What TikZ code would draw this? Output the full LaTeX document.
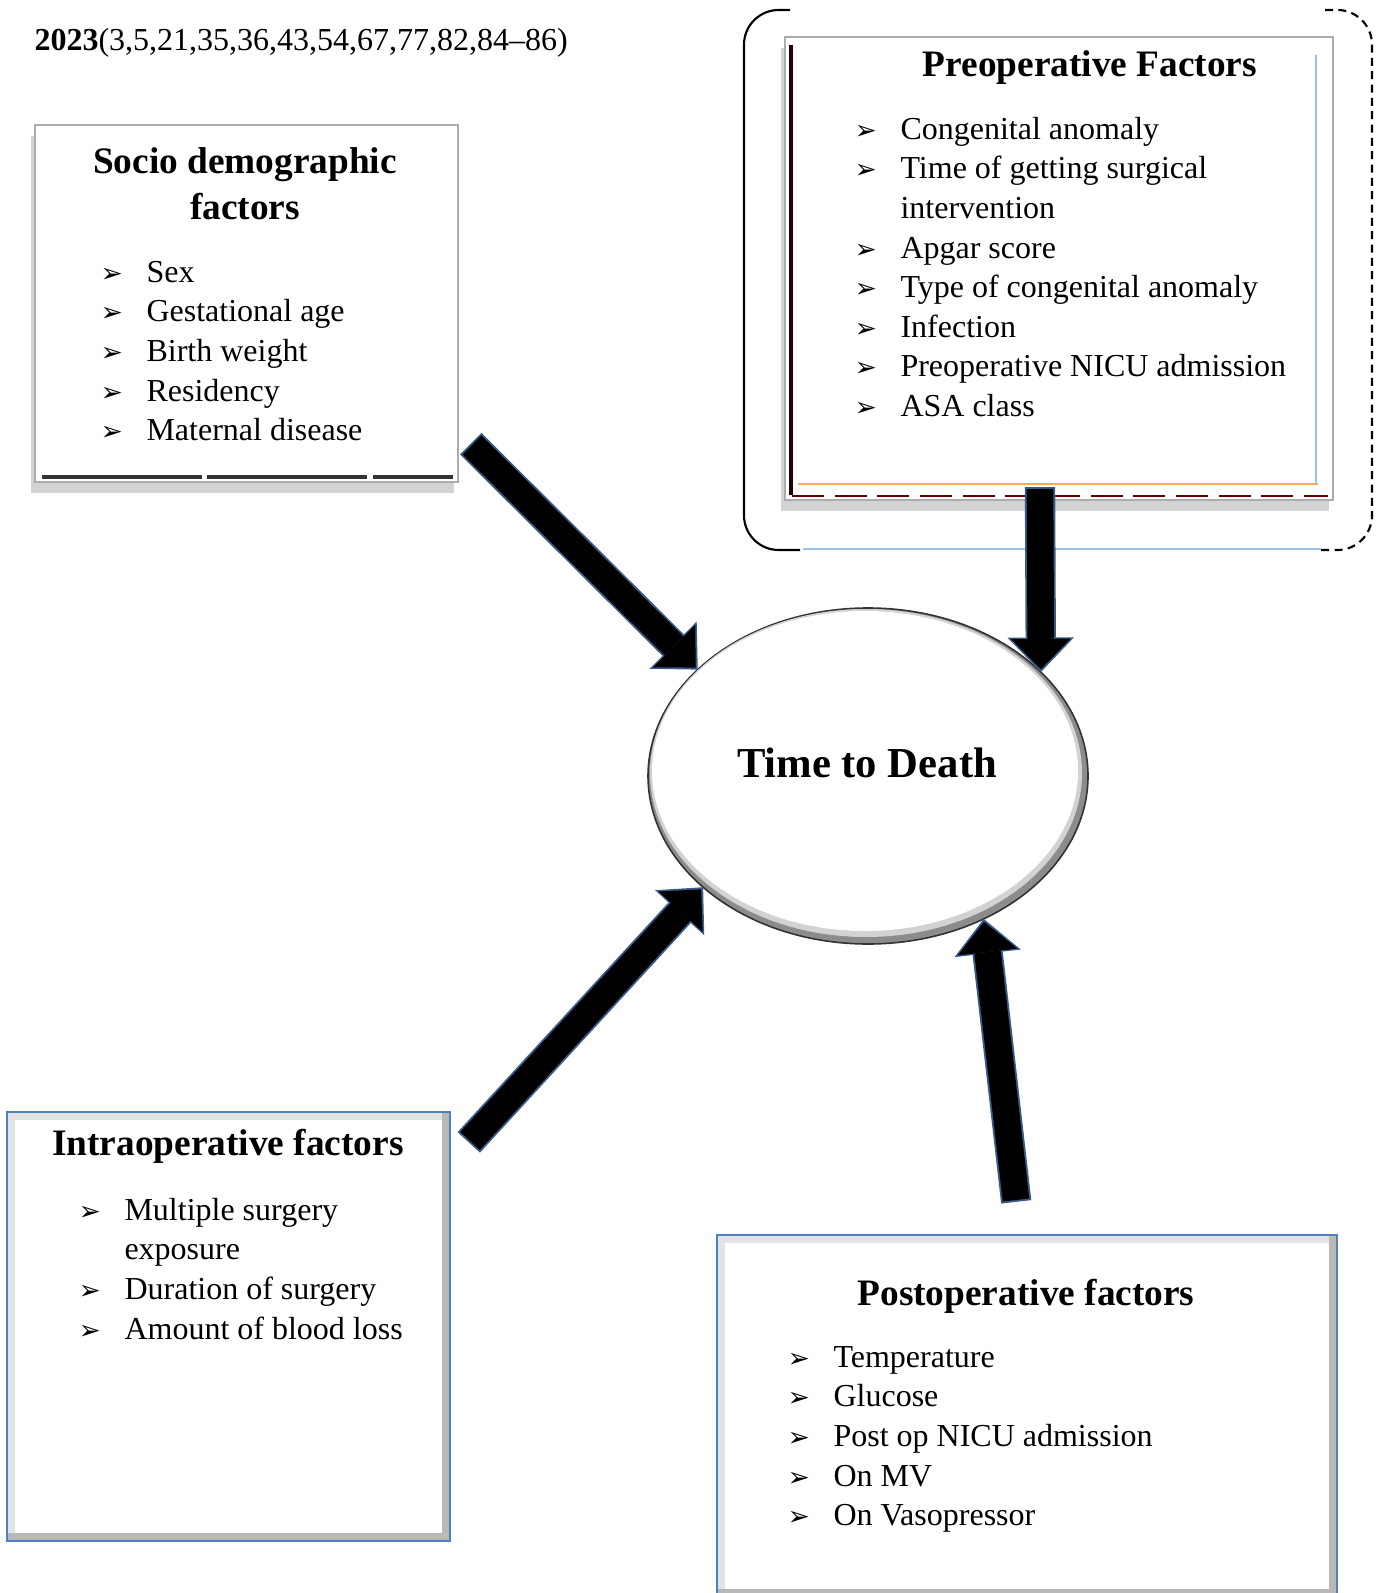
\documentclass[tikz,border=0pt]{standalone}
\usepackage{fontspec}
\setmainfont{Liberation Serif}
\newfontfamily\dingfont{DejaVu Sans}
\usetikzlibrary{arrows.meta,shapes.geometric,shadows,fit}

\definecolor{boxblue}{RGB}{79,129,189}
\definecolor{arrowblue}{RGB}{56,93,138}
\definecolor{rimgray}{RGB}{140,140,140}
\definecolor{paleblue}{RGB}{155,194,230}
\definecolor{softorange}{RGB}{247,170,90}

\newcommand{\pointer}{\makebox[17.25pt][l]{\dingfont\fontsize{10}{10}\selectfont ➢}}

\tikzset{
  shadowbox/.style={draw=gray!65, line width=1pt, fill=white, inner sep=0pt,
    drop shadow={shadow xshift=-1.5pt, shadow yshift=-4pt, opacity=0.35, fill=gray}},
  bevelbox/.style={draw=boxblue, line width=0.9pt, fill=white, inner sep=0pt,
    path picture={
      \draw[gray!22, line width=6pt] (path picture bounding box.south west) rectangle (path picture bounding box.north east);
      \draw[gray!55, line width=6pt] (path picture bounding box.north east) -- (path picture bounding box.south east) -- (path picture bounding box.south west);
    }},
  factortitle/.style={anchor=base, inner sep=0pt, font=\fontsize{14}{17.25}\selectfont\bfseries},
  factorlist/.style={anchor=north west, inner sep=0pt, align=left, font=\fontsize{12}{14.85}\selectfont},
  rimarrow/.style={line width=11.4pt, draw=arrowblue, shorten <=-0.7pt,
    -{Triangle[width=25pt,length=13pt,line width=0pt]}},
  fatarrow/.style={line width=10pt, draw=black, shorten >=1.1pt,
    -{Triangle[width=22.5pt,length=11.4pt,line width=0pt]}},
}

\begin{document}
\begin{tikzpicture}[x=0.375pt, y=-0.375pt]
  \useasboundingbox (0,0) rectangle (1378,1593);

  % reference line at the top
  \node[anchor=base west, inner sep=0pt, font=\fontsize{12}{14}\selectfont] (refs) at (34,51)
    {\textbf{2023}(3,5,21,35,36,43,54,67,77,82,84--86)};

  % socio demographic factors
  \node[shadowbox, fit={(35,125) (458,482)}] (socio) {};
  \draw[black!80, line width=1.5pt, dash pattern=on 60pt off 2pt] (42,477) -- (453,477);
  \node[factortitle, anchor=north, align=center] (sociotitle) at (245,141)
    {\strut Socio demographic\\factors};
  \node[factorlist] (sociolist) at (100,254) {\strut\pointer Sex\\
    \pointer Gestational age\\
    \pointer Birth weight\\
    \pointer Residency\\
    \pointer Maternal disease};

  % preoperative factors
  \draw[line width=0.8pt, rounded corners=13pt] (790,10) -- (744,10) -- (744,550) -- (800,550);
  \draw[line width=0.8pt, densely dashed, rounded corners=13pt] (1325,10) -- (1372,10) -- (1372,550) -- (1320,550);
  \draw[paleblue, line width=0.8pt] (803,549) -- (1321,549);
  \node[shadowbox, fit={(785,37) (1333,500)}] (preop) {};
  \draw[black!85!red, line width=1.2pt] (791,45) -- (791,495);
  \draw[softorange, line width=0.8pt] (798,484) -- (1318,484);
  \draw[paleblue, line width=0.8pt] (1316,55) -- (1316,484);
  \draw[red!40!black, line width=1pt, dash pattern=on 12pt off 4pt] (792,496) -- (1328,496);
  \node[factortitle] (preoptitle) at (1090,77) {Preoperative Factors};
  \node[factorlist] (preoplist) at (854,111) {\strut\pointer Congenital anomaly\\
    \pointer Time of getting surgical\\
    \hspace*{17.25pt}intervention\\
    \pointer Apgar score\\
    \pointer Type of congenital anomaly\\
    \pointer Infection\\
    \pointer Preoperative NICU admission\\
    \pointer ASA class};

  % intraoperative factors
  \node[bevelbox, fit={(7,1112) (450,1541)}] (intraop) {};
  \node[factortitle] (intratitle) at (228,1155) {Intraoperative factors};
  \node[factorlist] (intralist) at (78,1192) {\strut\pointer Multiple surgery\\
    \hspace*{17.25pt}exposure\\
    \pointer Duration of surgery\\
    \pointer Amount of blood loss};

  % postoperative factors
  \node[bevelbox, fit={(717,1235) (1337,1597)}] (postop) {};
  \node[factortitle] (posttitle) at (1026,1305) {Postoperative factors};
  \node[factorlist] (postlist) at (787,1339) {\strut\pointer Temperature\\
    \pointer Glucose\\
    \pointer Post op NICU admission\\
    \pointer On MV\\
    \pointer On Vasopressor};

  % outcome
  \node[ellipse, fill=rimgray, draw=gray!40!black, line width=0.6pt, minimum width=165pt,
    minimum height=126pt, inner sep=0pt, outer sep=0pt] (death) at (868,776) {};
  \fill[gray!35] (866,773) ellipse [x radius=216, y radius=164];
  \fill[white] (865,771) ellipse [x radius=213, y radius=160];
  \node[anchor=base, inner sep=0pt, font=\fontsize{16}{19}\selectfont\bfseries] (deathlabel) at (867,777)
    {Time to Death};

  % block arrows
  \coordinate (sociotail) at (472,445);
  \coordinate (preoptail) at (1040,489);
  \coordinate (intratail) at (470,1141);
  \coordinate (posttail) at (1016,1200);
  \draw[rimarrow] (sociotail) -- (death.148);
  \draw[fatarrow] (sociotail) -- (death.148);
  \draw[rimarrow] (preoptail) -- (death.31);
  \draw[fatarrow] (preoptail) -- (death.31);
  \draw[rimarrow] (intratail) -- (death.214);
  \draw[fatarrow] (intratail) -- (death.214);
  \draw[rimarrow] (posttail) -- (death.309);
  \draw[fatarrow] (posttail) -- (death.309);
\end{tikzpicture}
\end{document}
